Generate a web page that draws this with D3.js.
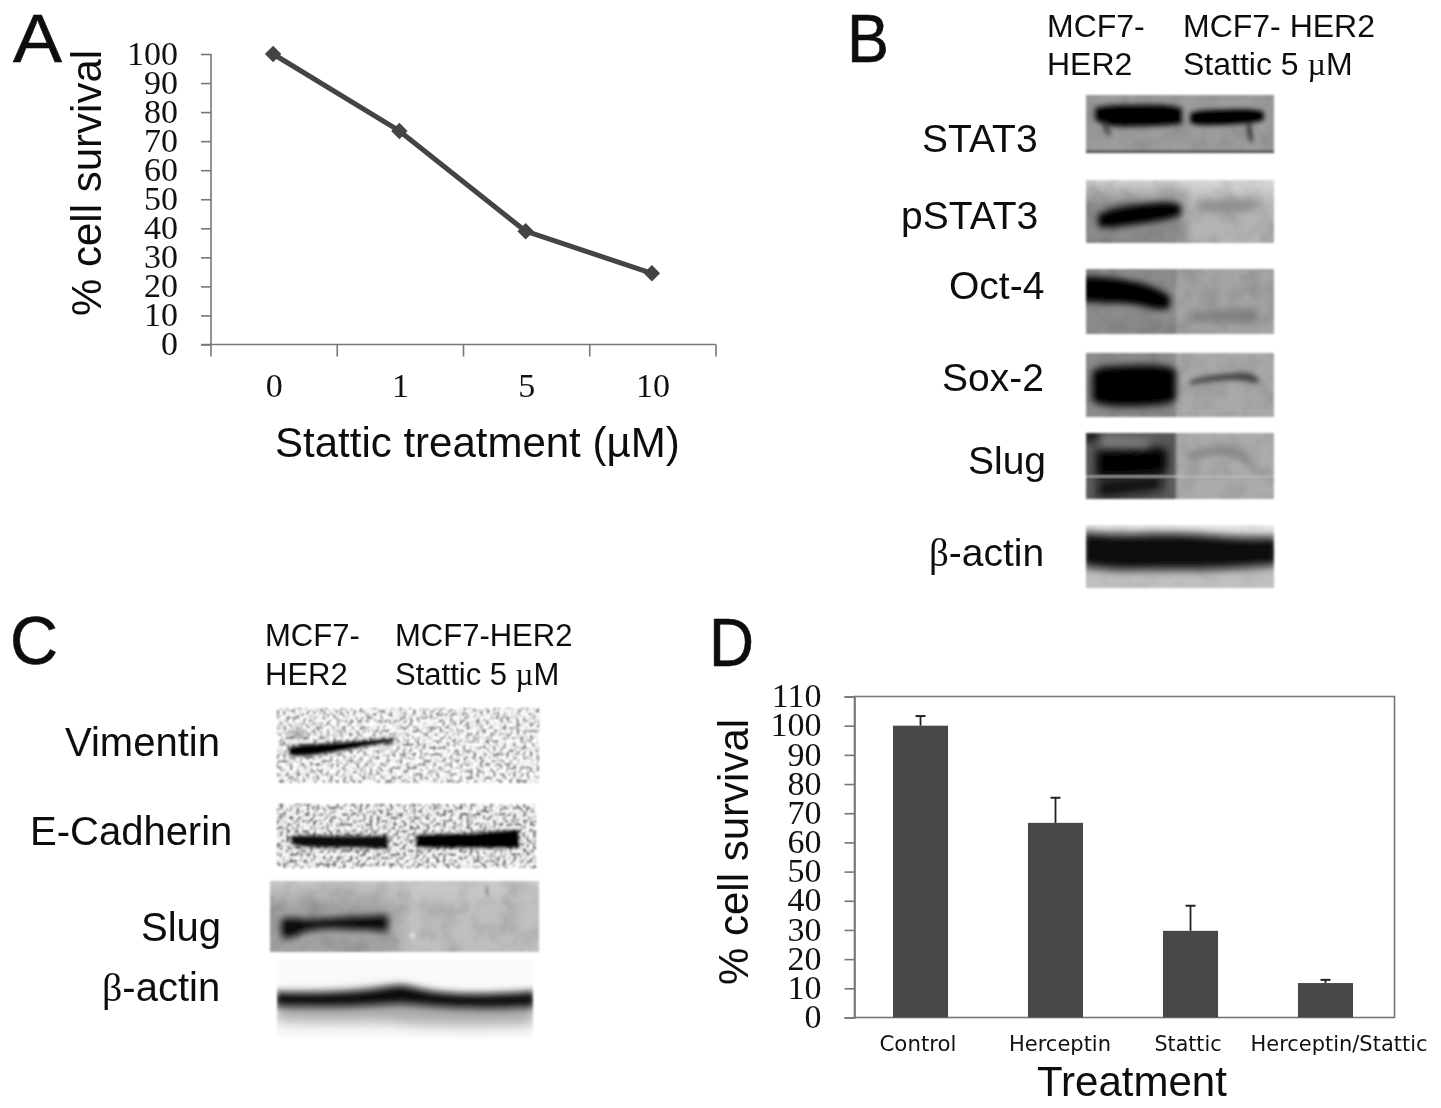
<!DOCTYPE html>
<html><head><meta charset="utf-8">
<script src="https://cdn.jsdelivr.net/npm/d3@7"></script>
<style>
html,body{margin:0;padding:0;background:#fff}
svg{display:block}
text{font-family:"Liberation Sans",Arial,sans-serif;fill:#111}
.serif{font-family:"Liberation Serif","Times New Roman",serif}
</style></head><body><svg id="c" width="1441" height="1108"></svg>
<script>
// Panel A
const doseLabels = ["0","1","5","10"];
const survivalByDose = [100,73.5,39,24.5];
// Panel D
const treatments = ["Control","Herceptin","Stattic","Herceptin/Stattic"];
const survivalByTreatment = [100,66.7,29.7,11.8];
const errorByTreatment = [3.3,8.6,8.6,1.1];
const treatmentLabelShift = [-4,3,-4,12];
const ticksA = [0,10,20,30,40,50,60,70,80,90,100];
const ticksD = [0,10,20,30,40,50,60,70,80,90,100,110];

// Panel letters and labels: [text, x, baseline, width]
const panelLetters = [["A",13,62,49],["B",847,62,42],["C",10,664,48],["D",709,666,45]];
const blotLabels = [
 ["MCF7-",1047,37,32],["HER2",1047,75,32],["MCF7- HER2",1183,37,32],["Stattic 5 |µ|M",1183,75,32],
 ["STAT3",922,152,39],["pSTAT3",901,229,39],["Oct-4",949,299,39],["Sox-2",942,391,39],["Slug",968,474,39],["|β|-actin",929,566,39],
 ["MCF7-",265,646,31],["HER2",265,685,31],["MCF7-HER2",395,646,31],["Stattic 5 |µ|M",395,685,31],
 ["Vimentin",65,756,40],["E-Cadherin",30,845,40],["Slug",141,941,40],["|β|-actin",102,1001,40]
];

// Western blot panels. bg: [left tone, right tone, split x, split softness]; bands: [[x,y,half thickness],...], colour, blur
const blots = [
 {x:1086,y:95,w:188,h:58,bg:["#9c9c9c","#989898"],noise:.12,foot:"#4a4a4a",bands:[
   {p:[[1095,114,6],[1108,116,11],[1130,116,11],[1165,115,11],[1182,116,8]],c:"#000",b:2.6},
   {p:[[1104,124,6],[1110,134,4]],c:"#333",b:2.8},
   {p:[[1190,118,5],[1200,118,8],[1230,117,8],[1255,116,7],[1264,116,4]],c:"#000",b:2.2},
   {p:[[1248,126,6],[1250,132,9],[1252,140,4]],c:"#111",b:2}]},
 {x:1086,y:180,w:188,h:63,bg:["#8c8c8c","#b4b4b4",1184,10],noise:.16,top:"#dedede",bands:[
   {p:[[1098,221,6],[1112,218,10],[1140,214,10],[1170,210,9],[1181,210,5]],c:"#000",b:3},
   {p:[[1200,206,5],[1230,206,6],[1258,204,5]],c:"#8a8a8a",b:5}]},
 {x:1086,y:269,w:188,h:65,bg:["#8c8c8c","#a4a4a4",1176,2],noise:.14,bands:[
   {p:[[1082,289,13],[1110,290,13],[1140,293,11],[1158,300,11],[1170,302,6]],c:"#000",b:3},
   {p:[[1190,317,4],[1220,316,6],[1258,316,7]],c:"#7c7c7c",b:4.5}]},
 {x:1086,y:353,w:188,h:64,bg:["#8b8b8b","#a9a9a9",1176,2],noise:.12,bands:[
   {p:[[1092,386,15],[1102,386,20],[1135,386,21],[1165,385,20],[1176,385,15]],c:"#000",b:3.6},
   {p:[[1190,383,2],[1205,379,3],[1235,376,3],[1250,377,5],[1259,381,2]],c:"#404040",b:2.4}]},
 {x:1086,y:433,w:188,h:66,bg:["#5e5e5e","#ababab",1176,2],noise:.12,bands:[
   {p:[[1084,436,5],[1100,436,4]],c:"#000",b:5},
   {p:[[1096,464,14],[1120,463,15],[1150,461,15],[1167,461,12]],c:"#000",b:5},
   {p:[[1098,490,9],[1130,486,8],[1162,483,7]],c:"#111",b:5},
   {p:[[1100,442,4],[1150,444,4]],c:"#8a8a8a",b:4},
   {p:[[1188,458,4],[1205,451,4],[1230,450,4],[1248,458,4],[1254,472,3]],c:"#838383",b:3.6}],
   line:[476,"#c8c8c8"]},
 {x:1086,y:525,w:188,h:63,bg:["#c0c0c0","#c0c0c0"],noise:.08,top:"#f0f0f0",bands:[
   {p:[[1082,549,17],[1120,553,18],[1160,551,18],[1200,552,18],[1240,553,15],[1278,551,14]],c:"#0c0c0c",b:4.5}]},
 {x:277,y:708,w:262,h:75,bg:["#ffffff","#ffffff"],noise:.5,bands:[
   {p:[[289,751,4],[300,751,6],[330,748,5],[360,744,3],[394,740,2]],c:"#000",b:1.6},
   {p:[[290,733,3],[305,735,3]],c:"#888",b:3}]},
 {x:277,y:804,w:259,h:64,bg:["#fbfbfb","#fbfbfb"],noise:.62,bands:[
   {p:[[291,840,4],[300,841,6],[340,842,6],[372,842,6],[388,842,7]],c:"#111",b:1.8},
   {p:[[416,841,6],[430,841,7],[470,841,7],[505,839,9],[519,839,9]],c:"#000",b:1.8}]},
 {x:270,y:881,w:269,h:71,bg:["#a2a2a2","#c0c0c0",398,18],noise:.16,top:"#cccccc",bands:[
   {p:[[281,928,9],[292,928,11],[305,925,5],[330,923,5],[360,923,7],[388,923,8]],c:"#0a0a0a",b:3},
   {p:[[410,898,6],[420,940,6]],c:"#d6d6d6",b:5},
   {p:[[436,903,3],[437,912,7],[436,924,3]],c:"#777",b:3.5},
   {p:[[486,887,2],[487,891,4],[488,896,2]],c:"#333",b:1.6},
   {p:[[513,900,3],[516,920,4]],c:"#8a8a8a",b:4},
   {p:[[411,935,2],[414,936,3]],c:"#f6f6f6",b:1.4}]},
 {x:277,y:960,w:256,h:78,bg:["#fafafa","#fafafa"],noise:0,bands:[
   {p:[[275,1009,12],[330,1009,14],[380,1005,16],[405,1006,18],[430,1011,14],[480,1014,12],[535,1011,13]],c:"#a8a8a8",b:7},
   {p:[[275,999,7],[330,1000,7],[380,997,8],[403,993,10],[425,999,7],[480,1002,7],[535,999,8]],c:"#111",b:3.6}]}
];

const svg = d3.select("#c");
const defs = svg.append("defs");
const soft = defs.append("filter").attr("id","soft").attr("x","-5%").attr("y","-5%").attr("width","110%").attr("height","110%");
soft.append("feGaussianBlur").attr("stdDeviation",.5);

function richText(sel, str){
  str.split("|").forEach((s,i)=>{ sel.append("tspan").classed("serif",i%2===1).text(s); });
}

// ---- blots
const blotG = svg.append("g").attr("class","blots");
const bandArea = d3.area().x(d=>d[0]).y0(d=>d[1]-d[2]).y1(d=>d[1]+d[2]).curve(d3.curveBasis);
blots.forEach((b,i)=>{
  const id = "b"+i;
  const edge = defs.append("filter").attr("id",id+"e").attr("x","-5%").attr("y","-5%").attr("width","110%").attr("height","110%");
  edge.append("feGaussianBlur").attr("stdDeviation",.8);
  defs.append("clipPath").attr("id",id+"c").append("rect").attr("x",b.x).attr("y",b.y).attr("width",b.w).attr("height",b.h);
  const g = blotG.append("g").attr("filter",`url(#${id}e)`).append("g").attr("clip-path",`url(#${id}c)`);
  const mid = b.bg[2], sv = b.bg[3]||0;
  let fill = b.bg[0];
  if(mid){
    const hg = defs.append("linearGradient").attr("id",id+"h").attr("gradientUnits","userSpaceOnUse")
      .attr("x1",b.x).attr("x2",b.x+b.w).attr("y1",0).attr("y2",0);
    const off = v=>(v-b.x)/b.w;
    hg.append("stop").attr("offset",off(mid-sv)).attr("stop-color",b.bg[0]);
    hg.append("stop").attr("offset",off(mid+sv)).attr("stop-color",b.bg[1]);
    fill = `url(#${id}h)`;
  }
  g.append("rect").attr("x",b.x).attr("y",b.y).attr("width",b.w).attr("height",b.h).attr("fill",fill);
  if(b.top){
    const gr = defs.append("linearGradient").attr("id",id+"g").attr("x1",0).attr("x2",0).attr("y1",0).attr("y2",1);
    gr.append("stop").attr("offset",0).attr("stop-color",b.top).attr("stop-opacity",.9);
    gr.append("stop").attr("offset",.4).attr("stop-color",b.top).attr("stop-opacity",0);
    g.append("rect").attr("x",b.x).attr("y",b.y).attr("width",b.w).attr("height",b.h).attr("fill",`url(#${id}g)`);
  }
  if(b.noise>0){
    const nf = defs.append("filter").attr("id",id+"n").attr("x",0).attr("y",0).attr("width","100%").attr("height","100%");
    const coarse = b.noise>=.3;
    nf.append("feTurbulence").attr("type","fractalNoise").attr("baseFrequency",coarse?.3:.05).attr("numOctaves",coarse?2:3).attr("seed",i*7+3);
    const k = coarse?6:1.6;
    nf.append("feColorMatrix").attr("values",`0 0 0 0 0  0 0 0 0 0  0 0 0 0 0  ${k} 0 0 0 ${-k*(coarse?.48:.4)}`);
    g.append("rect").attr("x",b.x).attr("y",b.y).attr("width",b.w).attr("height",b.h).attr("filter",`url(#${id}n)`).attr("opacity",b.noise);
  }
  b.bands.forEach((bd,j)=>{
    const f = defs.append("filter").attr("id",`${id}b${j}`).attr("filterUnits","userSpaceOnUse")
      .attr("x",b.x-40).attr("y",b.y-40).attr("width",b.w+80).attr("height",b.h+80);
    f.append("feGaussianBlur").attr("stdDeviation",bd.b);
    g.append("path").attr("d",bandArea(bd.p)).attr("fill",bd.c).attr("filter",`url(#${id}b${j})`);
  });
  if(b.foot) g.append("rect").attr("x",b.x).attr("y",b.y+b.h-2.5).attr("width",b.w).attr("height",2.5).attr("fill",b.foot);
  if(b.line) g.append("rect").attr("x",b.x).attr("y",b.line[0]).attr("width",b.w).attr("height",1).attr("fill",b.line[1]);
});

// ---- text on top of blots
const txt = svg.append("g").attr("filter","url(#soft)");
panelLetters.forEach(d=> txt.append("text").attr("x",d[1]).attr("y",d[2]).attr("font-size",68)
  .attr("textLength",d[3]).attr("lengthAdjust","spacingAndGlyphs").attr("stroke","#111").attr("stroke-width",.6).text(d[0]));
blotLabels.forEach(d=>{
  const t = txt.append("text").attr("x",d[1]).attr("y",d[2]).attr("font-size",d[3]);
  richText(t,d[0]);
});

function styleAxis(ax, size){
  ax.selectAll("path,line").attr("stroke","#777").attr("stroke-width",1.6);
  ax.selectAll("text").attr("class","serif").attr("font-size",size).attr("fill","#111");
}

// ---- Panel A
const xA = d3.scaleBand().domain(doseLabels).range([211,716]);
const yA = d3.scaleLinear().domain([0,100]).range([344.5,54]);
const A = svg.append("g");
const axYA = A.append("g").attr("transform","translate(211,0)").call(d3.axisLeft(yA).tickValues(ticksA).tickSize(10).tickPadding(23).tickFormat(d3.format("d")));
axYA.select(".domain").attr("d",`M0,${yA(100)}V${yA(0)}`);
styleAxis(axYA,34);
axYA.selectAll("text").attr("dy","0.3em");
const axXA = A.append("g").attr("transform","translate(0,344.5)").call(d3.axisBottom(xA).tickSize(0).tickPadding(0));
axXA.select(".domain").attr("d",`M201,0H716`);
styleAxis(axXA,34);
axXA.selectAll("text").attr("y",52).attr("dy",0);
axXA.selectAll(".bound").data(d3.range(5)).join("line").attr("class","bound")
  .attr("x1",i=>211+i*xA.step()).attr("x2",i=>211+i*xA.step()).attr("y1",0).attr("y2",12)
  .attr("stroke","#777").attr("stroke-width",1.6);
const xc = (d,i)=>xA(doseLabels[i])+xA.bandwidth()/2-1;
A.append("path").attr("fill","none").attr("stroke","#444").attr("stroke-width",5).attr("stroke-linejoin","round")
  .attr("d",d3.line().x(xc).y(d=>yA(d))(survivalByDose));
A.selectAll(".m").data(survivalByDose).join("path").attr("class","m").attr("fill","#444")
  .attr("d",d3.symbol(d3.symbolSquare,135))
  .attr("transform",(d,i)=>`translate(${xc(d,i)},${yA(d)}) rotate(45)`);
txt.append("text").attr("transform","translate(101,316) rotate(-90)").attr("font-size",42).text("% cell survival");
txt.append("text").attr("x",275).attr("y",457).attr("font-size",42).text("Stattic treatment (µM)");

// ---- Panel D
const xD = d3.scaleBand().domain(treatments).range([853,1393]).paddingInner(.592).paddingOuter(.296);
const yD = d3.scaleLinear().domain([0,110]).range([1017.5,696.5]);
const D = svg.append("g");
D.append("rect").attr("x",854.5).attr("y",696.5).attr("width",540).attr("height",321).attr("fill","none").attr("stroke","#777").attr("stroke-width",1.6);
const axYD = D.append("g").attr("transform","translate(854.5,0)").call(d3.axisLeft(yD).tickValues(ticksD).tickSize(10).tickPadding(23).tickFormat(d3.format("d")));
styleAxis(axYD,34);
axYD.selectAll("text").attr("dy","0.3em");
D.selectAll(".bar").data(survivalByTreatment).join("rect").attr("class","bar")
  .attr("x",(d,i)=>xD(treatments[i])).attr("width",xD.bandwidth())
  .attr("y",d=>yD(d)).attr("height",d=>yD(0)-yD(d)).attr("fill","#484848");
const cD = i=>xD(treatments[i])+xD.bandwidth()/2;
survivalByTreatment.forEach((v,i)=>{
  const top = yD(v+errorByTreatment[i]);
  D.append("line").attr("x1",cD(i)).attr("x2",cD(i)).attr("y1",yD(v)).attr("y2",top).attr("stroke","#222").attr("stroke-width",1.8);
  D.append("line").attr("x1",cD(i)-5).attr("x2",cD(i)+5).attr("y1",top).attr("y2",top).attr("stroke","#222").attr("stroke-width",2);
});
const axXD = D.append("g").attr("transform","translate(0,1017.5)").call(d3.axisBottom(xD).tickSize(0).tickPadding(0));
axXD.select(".domain").remove();
axXD.selectAll("text").attr("y",33).attr("dy",0).attr("font-size",22).attr("fill","#222")
  .style("font-family",'"DejaVu Sans",sans-serif').attr("textLength",(d,i)=>[77,102,67,177][i]).attr("lengthAdjust","spacingAndGlyphs")
  .attr("dx",(d,i)=>treatmentLabelShift[i]+1.5);
txt.append("text").attr("transform","translate(748,985) rotate(-90)").attr("font-size",42).text("% cell survival");
txt.append("text").attr("x",1037).attr("y",1096).attr("font-size",42).text("Treatment");
</script></body></html>
